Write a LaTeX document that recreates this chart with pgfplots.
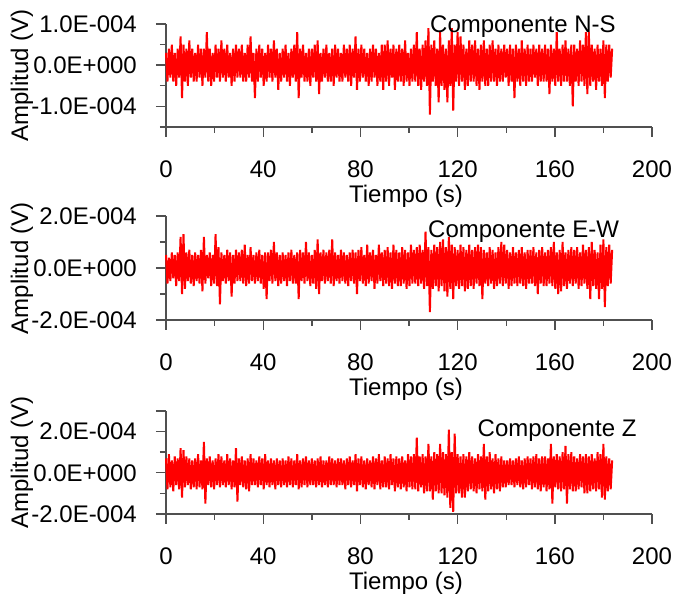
\documentclass[border=0pt]{standalone}
\usepackage{fontspec}
\setmainfont{Liberation Sans}
\usepackage{pgfplots}
\pgfplotsset{compat=1.18}
\definecolor{axgray}{RGB}{80,80,80}
\pgfplotsset{
  panel/.style={
    scale only axis, width=486pt,
    xmin=0, xmax=200,
    axis x line=bottom, axis y line=left,
    axis line style={-, axgray, line width=1.6pt},
    every tick/.style={axgray, line width=1.4pt},
    tick align=outside,
    major tick length=10pt, minor tick length=6pt,
    xtick={0,40,80,120,160,200},
    xticklabels={0,40,80,120,160,200},
    minor xtick={20,60,100,140,180},
    tick label style={font=\fontsize{24}{29}\selectfont, inner sep=0pt},
    xticklabel style={anchor=base, yshift=-41pt},
    yticklabel style={anchor=east, xshift=-19pt},
    xlabel={Tiempo (s)},
    ylabel={Amplitud (V)},
    every axis x label/.style={at={(axis description cs:0.4938,0)}, anchor=base, yshift=-76pt, inner sep=0pt, font=\fontsize{24}{29}\selectfont},
    every axis y label/.style={at={(axis description cs:-0.2963,0.5)}, rotate=90, anchor=center, inner sep=0pt, font=\fontsize{24}{29}\selectfont},
    clip=false,
  },
  sig/.style={red, line width=2pt, line join=bevel, no markers},
}
\begin{document}
\begin{tikzpicture}
\useasboundingbox (0pt,0pt) rectangle (675pt,596pt);
% Panel 1: N-S
\begin{axis}[panel, at={(166pt,469pt)}, anchor=south west, height=103pt,
  ymin=-15, ymax=10, ytick={-10,0,10},
  yticklabels={-1.0E-004,0.0E+000,1.0E-004},
  minor ytick={-15,-5,5}]
\addplot[sig] table[x expr=\coordindex*0.6, y index=0, row sep=\\] {
3\\-4\\4\\-3\\5\\-4\\3\\-5\\4\\-3\\
7\\-8\\5\\-4\\4\\-5\\6\\-3\\4\\-4\\
3\\-4\\5\\-3\\4\\-5\\4\\-3\\8\\-4\\
4\\-5\\3\\-4\\5\\-3\\4\\-4\\6\\-3\\
4\\-4\\5\\-3\\3\\-5\\4\\-4\\5\\-3\\
4\\-3\\5\\-4\\3\\-4\\5\\-3\\7\\-4\\
3\\-8\\4\\-4\\5\\-3\\4\\-5\\3\\-4\\
5\\-3\\4\\-4\\6\\-3\\4\\-6\\3\\-4\\
4\\-3\\5\\-4\\3\\-5\\4\\-3\\5\\-4\\
8\\-8\\4\\-3\\5\\-4\\3\\-4\\4\\-5\\
4\\-3\\5\\-4\\6\\-7\\3\\-4\\4\\-3\\
5\\-4\\3\\-4\\4\\-5\\5\\-3\\4\\-4\\
3\\-4\\5\\-3\\4\\-4\\5\\-5\\4\\-3\\
7\\-6\\4\\-4\\5\\-3\\4\\-4\\3\\-5\\
4\\-4\\5\\-3\\4\\-5\\3\\-4\\5\\-6\\
5\\-4\\6\\-5\\4\\-3\\5\\-6\\4\\-4\\
5\\-4\\4\\-5\\6\\-4\\3\\-5\\4\\-4\\
5\\-4\\8\\-5\\4\\-6\\5\\-4\\6\\-5\\
9\\-12\\5\\-4\\6\\-5\\4\\-9\\8\\-5\\
5\\-6\\4\\-9\\6\\-5\\9\\-11\\5\\-4\\
8\\-5\\7\\-4\\5\\-6\\4\\-5\\6\\-4\\
5\\-4\\6\\-5\\4\\-6\\5\\-4\\6\\-5\\
4\\-5\\5\\-4\\6\\-4\\4\\-5\\5\\-4\\
4\\-4\\5\\-3\\4\\-5\\5\\-4\\4\\-8\\
5\\-4\\4\\-5\\6\\-4\\4\\-5\\5\\-4\\
4\\-4\\5\\-3\\4\\-5\\5\\-4\\4\\-4\\
5\\-4\\4\\-7\\5\\-4\\4\\-5\\8\\-4\\
4\\-5\\5\\-4\\6\\-4\\4\\-5\\5\\-10\\
5\\-4\\4\\-5\\6\\-4\\5\\-5\\8\\-7\\
8\\-5\\5\\-4\\4\\-6\\5\\-4\\4\\-5\\
6\\-8\\5\\-4\\5\\-3\\4\\
};
\end{axis}
% Panel 2: E-W
\begin{axis}[panel, at={(166pt,276pt)}, anchor=south west, height=104pt,
  ymin=-20, ymax=20, ytick={-20,0,20},
  yticklabels={-2.0E-004,0.0E+000,2.0E-004},
  minor ytick={-10,10}]
\addplot[sig] table[x expr=\coordindex*0.6, y index=0, row sep=\\] {
5\\-6\\4\\-5\\6\\-4\\5\\-7\\6\\-5\\
12\\-10\\13\\-8\\6\\-5\\7\\-6\\5\\-7\\
6\\-5\\5\\-6\\7\\-9\\12\\-6\\5\\-4\\
6\\-7\\5\\-6\\13\\-7\\8\\-14\\6\\-5\\
5\\-6\\7\\-5\\6\\-11\\5\\-6\\7\\-5\\
6\\-5\\7\\-6\\9\\-7\\5\\-6\\8\\-5\\
5\\-6\\6\\-5\\7\\-6\\5\\-8\\6\\-12\\
6\\-5\\7\\-6\\10\\-5\\6\\-7\\5\\-6\\
6\\-5\\5\\-7\\6\\-5\\7\\-6\\5\\-6\\
6\\-12\\7\\-5\\6\\-6\\10\\-5\\6\\-7\\
5\\-6\\7\\-8\\11\\-10\\6\\-5\\7\\-6\\
6\\-5\\7\\-6\\11\\-7\\6\\-5\\5\\-6\\
7\\-5\\6\\-6\\5\\-7\\6\\-5\\7\\-6\\
6\\-10\\7\\-5\\8\\-6\\5\\-7\\9\\-6\\
6\\-5\\7\\-8\\5\\-6\\9\\-5\\6\\-7\\
7\\-6\\8\\-7\\6\\-8\\9\\-6\\7\\-7\\
6\\-7\\8\\-6\\7\\-8\\6\\-7\\9\\-6\\
7\\-6\\8\\-7\\9\\-6\\7\\-8\\14\\-7\\
8\\-17\\7\\-8\\9\\-7\\8\\-9\\10\\-7\\
11\\-9\\8\\-11\\12\\-8\\9\\-12\\8\\-7\\
7\\-8\\9\\-7\\8\\-9\\7\\-8\\9\\-7\\
7\\-8\\8\\-6\\9\\-7\\8\\-12\\7\\-6\\
6\\-7\\8\\-6\\7\\-8\\6\\-7\\8\\-6\\
10\\-7\\9\\-6\\7\\-8\\6\\-7\\8\\-6\\
6\\-7\\7\\-6\\8\\-7\\6\\-8\\7\\-6\\
7\\-6\\8\\-7\\6\\-10\\7\\-6\\8\\-7\\
6\\-7\\7\\-6\\8\\-7\\10\\-8\\6\\-10\\
7\\-9\\10\\-7\\6\\-8\\7\\-6\\8\\-7\\
7\\-6\\8\\-8\\6\\-7\\9\\-6\\7\\-8\\
8\\-12\\10\\-7\\7\\-8\\6\\-12\\9\\-8\\
11\\-15\\8\\-7\\9\\-6\\7\\
};
\end{axis}
% Panel 3: Z
\begin{axis}[panel, at={(166pt,82pt)}, anchor=south west, height=103pt,
  ymin=-20, ymax=30, ytick={-20,0,20},
  yticklabels={-2.0E-004,0.0E+000,2.0E-004},
  minor ytick={-10,10},
  extra y ticks={30}, extra y tick labels={}]
\addplot[sig] table[x expr=\coordindex*0.6, y index=0, row sep=\\] {
7\\-8\\9\\-7\\6\\-9\\8\\-6\\7\\-8\\
12\\-12\\11\\-7\\8\\-6\\7\\-8\\6\\-7\\
7\\-8\\9\\-7\\6\\-8\\15\\-15\\7\\-6\\
8\\-7\\6\\-8\\7\\-6\\9\\-7\\8\\-6\\
6\\-7\\9\\-6\\7\\-8\\6\\-7\\12\\-14\\
7\\-6\\8\\-7\\6\\-8\\7\\-9\\9\\-6\\
7\\-6\\6\\-7\\8\\-6\\7\\-8\\9\\-6\\
6\\-7\\7\\-6\\6\\-8\\7\\-6\\6\\-7\\
7\\-6\\6\\-7\\8\\-6\\7\\-7\\6\\-6\\
9\\-8\\6\\-7\\7\\-6\\8\\-7\\6\\-6\\
7\\-6\\6\\-7\\7\\-6\\8\\-7\\6\\-6\\
6\\-7\\8\\-6\\7\\-6\\6\\-7\\7\\-6\\
7\\-6\\6\\-8\\7\\-6\\8\\-7\\6\\-6\\
9\\-9\\7\\-6\\8\\-7\\6\\-8\\7\\-6\\
6\\-7\\8\\-8\\7\\-6\\9\\-8\\6\\-7\\
8\\-7\\7\\-8\\9\\-6\\7\\-9\\8\\-7\\
7\\-8\\8\\-7\\6\\-9\\9\\-7\\8\\-8\\
9\\-8\\17\\-9\\8\\-7\\9\\-10\\8\\-9\\
14\\-9\\8\\-13\\10\\-9\\9\\-10\\14\\-10\\
10\\-11\\9\\-12\\21\\-17\\10\\-19\\19\\-10\\
9\\-10\\8\\-12\\9\\-12\\8\\-9\\10\\-8\\
8\\-9\\7\\-10\\9\\-8\\8\\-9\\14\\-13\\
8\\-9\\10\\-8\\7\\-10\\9\\-8\\7\\-9\\
8\\-7\\6\\-7\\6\\-6\\7\\-6\\6\\-7\\
7\\-6\\8\\-7\\6\\-8\\7\\-7\\8\\-6\\
7\\-8\\8\\-7\\9\\-8\\7\\-9\\8\\-7\\
8\\-9\\7\\-8\\14\\-15\\8\\-7\\9\\-8\\
8\\-9\\10\\-8\\13\\-15\\9\\-8\\10\\-9\\
8\\-9\\7\\-8\\9\\-7\\8\\-10\\9\\-10\\
8\\-9\\9\\-8\\7\\-9\\10\\-8\\9\\-12\\
14\\-13\\8\\-9\\7\\-8\\6\\
};
\end{axis}
\node[anchor=base west, inner sep=0pt, font=\fontsize{24}{29}\selectfont] at (430pt,563pt) {Componente N-S};
\node[anchor=base west, inner sep=0pt, font=\fontsize{24}{29}\selectfont] at (428pt,358pt) {Componente E-W};
\node[anchor=base west, inner sep=0pt, font=\fontsize{24}{29}\selectfont] at (477.5pt,159pt) {Componente Z};
\end{tikzpicture}
\end{document}
